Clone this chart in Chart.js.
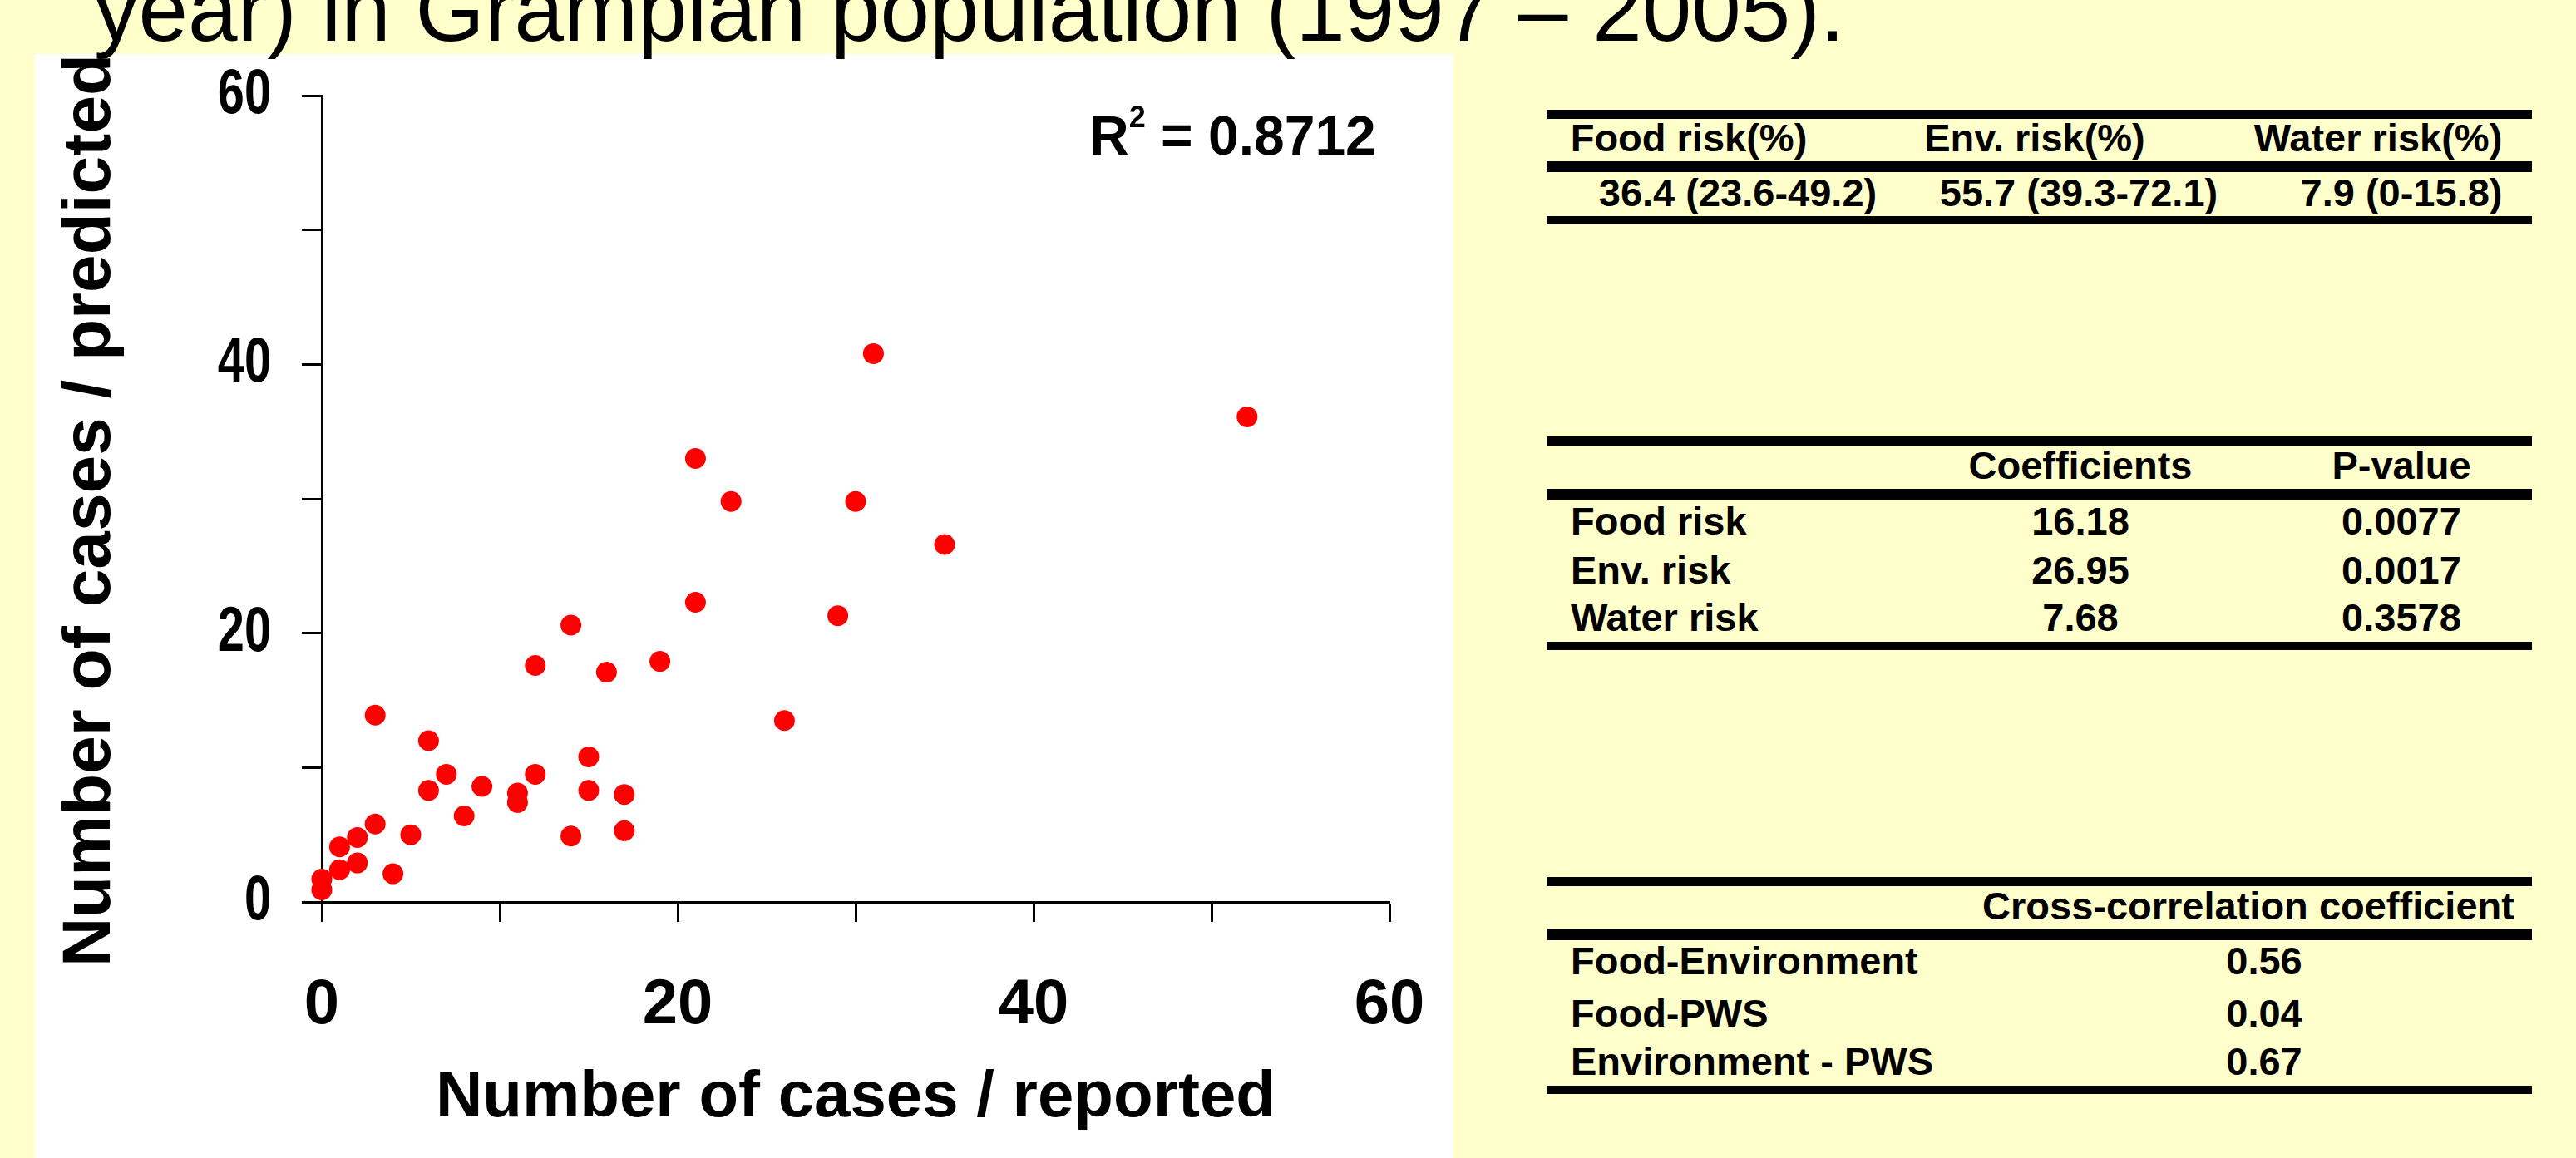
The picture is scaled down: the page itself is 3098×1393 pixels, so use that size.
<!DOCTYPE html>
<html><head><meta charset="utf-8">
<script src="https://cdn.jsdelivr.net/npm/chart.js@4.4.1/dist/chart.umd.min.js"></script>
<style>
html,body{margin:0;padding:0;}
body{width:3098px;height:1393px;background:#FFFFCC;position:relative;overflow:hidden;font-family:'Liberation Sans',Arial,Helvetica,sans-serif;color:#000;}
#panel{position:absolute;left:42px;top:65px;width:1706px;height:1328px;background:#FFFFFF;}
#chart{position:absolute;left:0;top:0;}
.t{position:absolute;line-height:0;white-space:nowrap;font-weight:bold;}
.rule{position:absolute;background:#000;}
</style></head><body>
<div id="panel"><canvas id="chart" width="1706" height="1328"></canvas></div>
<div id="overlay"></div>
<script>
// ---- data ----
const reported  = [0,0,1,1,2,2,3,3,4,5,6,6,7,8,9,11,11,12,12,14,14,15,15,16,17,17,19,21,21,23,26,29,30,31,35,52];
const predicted = [1.7,0.9,4.1,2.4,4.8,2.9,13.9,5.8,2.1,5.0,12.0,8.3,9.5,6.4,8.6,8.1,7.4,17.6,9.5,20.6,4.9,10.8,8.3,17.1,8.0,5.3,17.9,22.3,33.0,29.8,13.5,21.3,29.8,40.8,26.6,36.1];
const tickValues = [0,10,20,30,40,50,60];
const labeledTicks = [0,20,40,60];
const xTitle = 'Number of cases / reported';
const yTitle = 'Number of cases / predicted';
const rSquared = '0.8712';
const pageTitle = 'year) in Grampian population (1997 \u2013 2005).';

const riskHeaders = ['Food risk(%)','Env. risk(%)','Water risk(%)'];
const riskValues  = ['36.4 (23.6-49.2)','55.7 (39.3-72.1)','7.9 (0-15.8)'];
const coefHeaders = ['Coefficients','P-value'];
const coefNames   = ['Food risk','Env. risk','Water risk'];
const coefValues  = ['16.18','26.95','7.68'];
const pValues     = ['0.0077','0.0017','0.3578'];
const corrHeader  = 'Cross-correlation coefficient';
const corrNames   = ['Food-Environment','Food-PWS','Environment - PWS'];
const corrValues  = ['0.56','0.04','0.67'];

// ---- html text helpers ----
const overlay = document.getElementById('overlay');
function place(html, x, baseline, size, align, weight){
  const d = document.createElement('div');
  d.className = 't';
  d.innerHTML = html;
  d.style.fontSize = size + 'px';
  d.style.left = x + 'px';
  d.style.top = (baseline - 0.3465*size) + 'px';
  if (weight) d.style.fontWeight = weight;
  if (align === 'center') d.style.transform = 'translateX(-50%)';
  if (align === 'right') d.style.transform = 'translateX(-100%)';
  overlay.appendChild(d);
  return d;
}
function rule(y, h){
  const r = document.createElement('div');
  r.className = 'rule';
  r.style.left = '1860px'; r.style.width = '1185px';
  r.style.top = y + 'px'; r.style.height = h + 'px';
  overlay.appendChild(r);
}

// page title (cut off at top)
place(pageTitle, 113, 49, 107, 'left', 'normal');

// R squared annotation
place('R<span style="font-size:36px;position:relative;top:-33px;">2</span> = ' + rSquared, 1310, 186, 66, 'left');

// table 1
const TF = 47;
rule(132, 11); rule(194, 13); rule(260, 10);
const t1HeadX = [2031, 2447, 2860];
const t1ValX  = [2090, 2500, 2888];
riskHeaders.forEach((h,i)=>place(h, t1HeadX[i], 182, TF, 'center'));
riskValues.forEach((v,i)=>place(v, t1ValX[i], 248, TF, 'center'));

// table 2
rule(525, 11); rule(588, 13); rule(772, 10);
place(coefHeaders[0], 2502, 576, TF, 'center');
place(coefHeaders[1], 2888, 576, TF, 'center');
const t2Base = [643, 702, 759];
coefNames.forEach((n,i)=>{
  place(n, 1889, t2Base[i], TF, 'left');
  place(coefValues[i], 2502, t2Base[i], TF, 'center');
  place(pValues[i], 2888, t2Base[i], TF, 'center');
});

// table 3
rule(1055, 11); rule(1117, 14); rule(1306, 10);
place(corrHeader, 2704, 1106, TF, 'center');
const t3Base = [1172, 1235, 1293];
corrNames.forEach((n,i)=>{
  place(n, 1889, t3Base[i], TF, 'left');
  place(corrValues[i], 2723, t3Base[i], TF, 'center');
});

// ---- chart ----
const FAM = "'Liberation Sans', Arial, Helvetica, sans-serif";
// x labels: centre sits tickLength + padding + lineHeight/2 below the axis
const xTickFont = {family: FAM, size: 76, weight: 'bold', lineHeight: 2.12};
const yTickFont = {family: FAM, size: 76, weight: 'bold', lineHeight: 0.3};
const xTitleFont = {family: FAM, size: 78, weight: 'bold', lineHeight: 1};
const yTitleFont = {family: FAM, size: 82, weight: 'bold', lineHeight: 1};
const Y_TICK_LEN = 24, Y_TICK_PAD = 37;
function setTicks(axis){ axis.ticks = tickValues.map(v => ({value: v})); }
function labelCb(v){ return labeledTicks.includes(v) ? String(v) : ''; }

// y-axis: tick labels (produced by Chart.js) drawn horizontally condensed,
// and the axis title nudged slightly below the axis centre, as in the original
const yAxisStyle = {
  id: 'yAxisStyle',
  afterLayout(chart){
    const s = chart.scales.y;
    if (!s || s._styled) return;
    const origLabels = s.drawLabels;
    s.drawLabels = function(area){
      const ctx = this.ctx;
      const xr = this.right - Y_TICK_LEN - Y_TICK_PAD;
      ctx.save();
      ctx.translate(xr, 0); ctx.scale(0.76, 1); ctx.translate(-xr, 0);
      origLabels.call(this, area);
      ctx.restore();
    };
    const origTitle = s.drawTitle;
    s.drawTitle = function(area){
      const ctx = this.ctx;
      ctx.save();
      ctx.translate(0, 14);
      origTitle.call(this, area);
      ctx.restore();
    };
    s._styled = true;
  }
};

new Chart(document.getElementById('chart'), {
  type: 'scatter',
  data: {
    datasets: [{
      data: reported.map((x,i)=>({x: x, y: predicted[i]})),
      backgroundColor: '#FF0000',
      borderWidth: 0,
      pointRadius: 12.5,
      pointHoverRadius: 12.5,
      clip: false
    }]
  },
  plugins: [yAxisStyle],
  options: {
    responsive: false,
    devicePixelRatio: 1,
    animation: false,
    events: [],
    layout: {autoPadding: false, padding: {left: 0, top: 50, right: 77, bottom: 0}},
    plugins: {legend: {display: false}, tooltip: {enabled: false}},
    scales: {
      x: {
        type: 'linear', min: 0, max: 60,
        afterBuildTicks: setTicks,
        afterFit: (s) => { s.height = 308; },
        grid: {display: true, drawOnChartArea: false, drawTicks: true, tickLength: 24, tickWidth: 3, tickColor: '#000'},
        border: {display: true, color: '#000', width: 3},
        ticks: {font: xTickFont, color: '#000', padding: 20, maxRotation: 0, autoSkip: false, callback: labelCb},
        title: {display: true, text: xTitle, color: '#000', font: xTitleFont, padding: {top: 0, bottom: 33}}
      },
      y: {
        type: 'linear', min: 0, max: 60,
        afterBuildTicks: setTicks,
        afterFit: (s) => { s.width = 345; },
        grid: {display: true, drawOnChartArea: false, drawTicks: true, tickLength: Y_TICK_LEN, tickWidth: 3, tickColor: '#000'},
        border: {display: true, color: '#000', width: 3},
        ticks: {font: yTickFont, color: '#000', padding: Y_TICK_PAD, autoSkip: false, callback: labelCb},
        title: {display: true, text: yTitle, color: '#000', font: yTitleFont, padding: {top: 26, bottom: 0}}
      }
    }
  }
});
</script>
</body></html>
